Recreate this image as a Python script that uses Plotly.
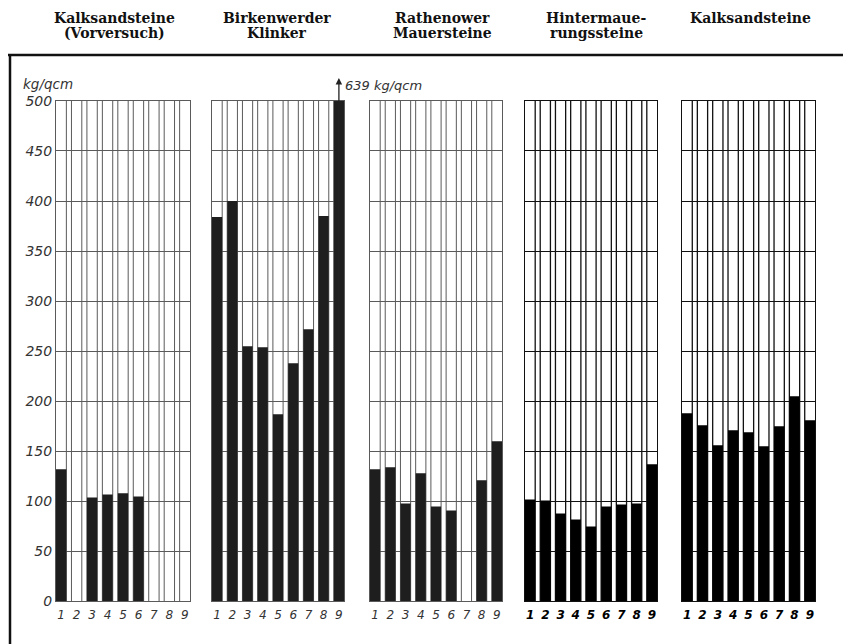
import plotly.graph_objects as go

# ---------------- data ----------------
categories = [1, 2, 3, 4, 5, 6, 7, 8, 9]
tick_labels = ["1", "2", "3", "4", "5", "6", "7", "8", "9"]
title_line1 = ["Kalksandsteine", "Birkenwerder", "Rathenower", "Hintermaue-", "Kalksandsteine"]
title_line2 = ["(Vorversuch)", "Klinker", "Mauersteine", "rungssteine", ""]
kalksand_vorversuch = [132, None, 104, 107, 108, 105, None, None, None]
birkenwerder_klinker = [384, 400, 255, 254, 187, 238, 272, 385, 639]
rathenower_mauersteine = [132, 134, 98, 128, 95, 91, None, 121, 160]
hintermauerungssteine = [102, 101, 88, 82, 75, 95, 97, 98, 137]
kalksandsteine = [188, 176, 156, 171, 169, 155, 175, 205, 181]
y_tick_values = [0, 50, 100, 150, 200, 250, 300, 350, 400, 450, 500]
y_unit = "kg/qcm"
overflow_label = "639 kg/qcm"

series = [kalksand_vorversuch, birkenwerder_klinker, rathenower_mauersteine,
          hintermauerungssteine, kalksandsteine]

# ---------------- layout geometry (target screenshot pixels) ----------------
W, H = 851, 644
XOFF = 8            # page body margin (horizontal)
YOFF, YS = 15, 0.976  # observed vertical placement of the page in the screenshot
panel_px = [(56, 190), (212, 344), (370, 502), (525, 657), (682, 815)]
title_cx = [114, 277, 442, 596, 750]
top_px, bot_px = 100, 601
bw = 0.67  # bar width in category units


def xp(px):
    return (px - XOFF) / W


def yp(py):
    return 1 - ((py - YOFF) / YS) / H


ydom = [yp(bot_px), yp(top_px)]
xrange_ = [categories[0] - bw / 2, categories[-1] + bw / 2]

fig = go.Figure()
layout = dict(
    width=W, height=H,
    margin=dict(l=0, r=0, t=0, b=0),
    paper_bgcolor="white", plot_bgcolor="white",
    showlegend=False, bargap=1 - bw,
    shapes=[], annotations=[],
)

for i, vals in enumerate(series):
    n = i + 1
    sfx = "" if n == 1 else str(n)
    heavy = i >= 3
    gcol = "#111111" if heavy else "#5a5a5a"
    gw = 1.3 if heavy else 1
    barcol = "#000000" if heavy else "#1e1e1e"
    fig.add_trace(go.Bar(
        x=categories, y=vals, width=bw, marker=dict(color=barcol, line=dict(width=0)),
        xaxis="x" + sfx, yaxis="y" + sfx, hoverinfo="skip",
    ))
    layout["xaxis" + sfx] = dict(
        domain=[xp(panel_px[i][0]), xp(panel_px[i][1])],
        anchor="y" + sfx, range=xrange_, tickmode="array",
        tickvals=categories, ticktext=tick_labels, showgrid=False,
        showline=True, mirror=True, linecolor=gcol, linewidth=gw, zeroline=False,
        ticks="", ticklabelstandoff=2,
        tickfont=dict(family="DejaVu Sans", size=12, style="italic",
                      weight="bold" if heavy else "normal",
                      color="#000" if heavy else "#333"),
    )
    layout["yaxis" + sfx] = dict(
        domain=ydom, anchor="x" + sfx, range=[0, 500], tickmode="array",
        tickvals=y_tick_values, showgrid=True, gridcolor=gcol, gridwidth=gw,
        showline=True, mirror=True, linecolor=gcol, linewidth=gw, zeroline=False,
        showticklabels=(i == 0), ticks="",
        tickfont=dict(family="DejaVu Sans", size=14, style="italic", color="#333"),
    )
    # vertical rulings at every bar edge
    for k in categories:
        for e in (k - bw / 2, k + bw / 2):
            if e <= xrange_[0] + 1e-6 or e >= xrange_[1] - 1e-6:
                continue
            layout["shapes"].append(dict(
                type="line", xref="x" + sfx, yref="y" + sfx, x0=e, x1=e, y0=0, y1=500,
                line=dict(color=gcol, width=gw), layer="below",
            ))
    for txt, ty in ((title_line1[i], 17), (title_line2[i], 32)):
        if not txt:
            continue
        layout["annotations"].append(dict(
            text="<b>" + txt + "</b>", xref="paper", yref="paper",
            x=xp(title_cx[i]), y=yp(ty), xanchor="center", yanchor="middle",
            showarrow=False, font=dict(family="DejaVu Serif", size=14, color="#111"),
        ))

# unit label
layout["annotations"].append(dict(
    text=y_unit, xref="paper", yref="paper", x=xp(21), y=yp(83),
    xanchor="left", yanchor="middle", showarrow=False,
    font=dict(family="DejaVu Sans", size=13.5, style="italic", color="#333"),
))
# overflow arrow for Birkenwerder bar 9
layout["annotations"].append(dict(
    text="", xref="x2", yref="paper", x=categories[-1], y=yp(77),
    axref="x2", ayref="y2", ax=categories[-1], ay=500,
    showarrow=True, arrowhead=2, arrowsize=1, arrowwidth=1.3, arrowcolor="#222",
))
layout["annotations"].append(dict(
    text=overflow_label, xref="paper", yref="paper", x=xp(343), y=yp(85),
    xanchor="left", yanchor="middle", showarrow=False,
    font=dict(family="DejaVu Sans", size=13, style="italic", color="#333"),
))
# outer frame
layout["shapes"].append(dict(type="line", xref="paper", yref="paper",
                             x0=xp(7), x1=1, y0=yp(54), y1=yp(54),
                             line=dict(color="#111", width=2.5)))
layout["shapes"].append(dict(type="line", xref="paper", yref="paper",
                             x0=xp(10), x1=xp(10), y0=yp(54), y1=0,
                             line=dict(color="#111", width=2.5)))

fig.update_layout(**layout)
fig.write_html("out.html")
